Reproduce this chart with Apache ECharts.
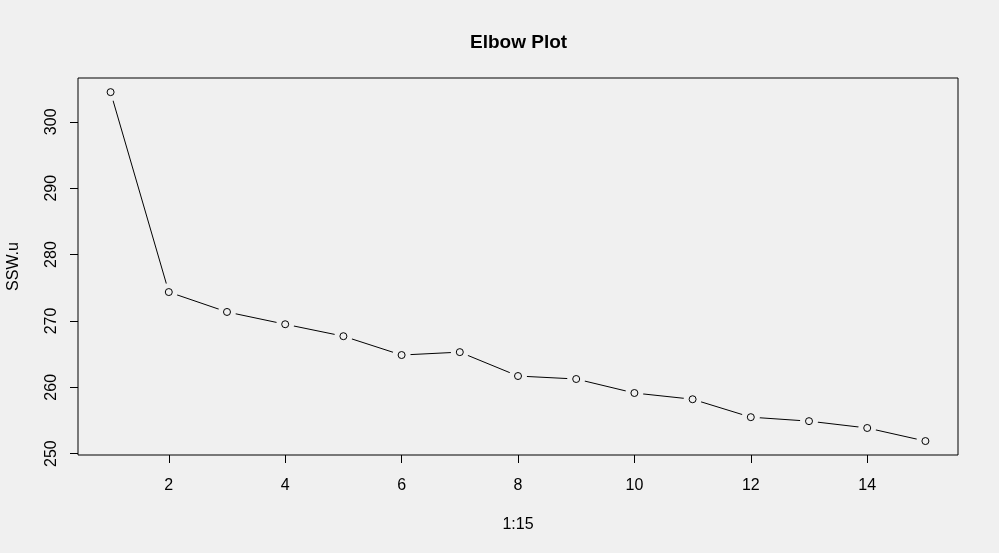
<!DOCTYPE html>
<html>
<head>
<meta charset="utf-8">
<title>Elbow Plot</title>
<script src="https://cdn.jsdelivr.net/npm/echarts@6.0.0/dist/echarts.min.js"></script>
<style>
	html, body { margin: 0; padding: 0; background: #f0f0f0; }
	#chart { width: 999px; height: 553px; }
</style>
</head>
<body>
<div id="chart"></div>
<script>
	// number of clusters and within-cluster sum of squares
	var clusters = [1, 2, 3, 4, 5, 6, 7, 8, 9, 10, 11, 12, 13, 14, 15];
	var ssw = [304.47, 274.35, 271.35, 269.5, 267.7, 264.86, 265.3, 261.7, 261.25, 259.14, 258.2, 255.5, 254.9, 253.87, 251.9];
	var xTicks = [2, 4, 6, 8, 10, 12, 14];
	var yTicks = [250, 260, 270, 280, 290, 300];

	var pts = clusters.map(function (c, i) { return [c, ssw[i]]; });
	var bg = '#f0f0f0';
	var font = 'Liberation Sans, Arial, sans-serif';

	var chart = echarts.init(document.getElementById('chart'));
	chart.setOption({
		backgroundColor: bg,
		animation: false,
		title: {
			text: 'Elbow Plot',
			left: 465,
			top: 28,
			textStyle: { fontFamily: font, fontSize: 19, fontWeight: 'bold', color: '#000' }
		},
		grid: {
			left: 78, top: 78, right: 41, bottom: 98,
			outerBoundsMode: 'none',
			containLabel: false,
			show: true, borderColor: '#000', borderWidth: 1, backgroundColor: 'transparent'
		},
		xAxis: {
			type: 'value',
			min: 0.44,
			max: 15.56,
			name: '1:15',
			nameLocation: 'middle',
			nameGap: 62,
			nameTextStyle: { fontFamily: font, fontSize: 16, color: '#000' },
			axisLine: { show: false },
			axisTick: { show: true, length: 8, inside: false, customValues: xTicks, lineStyle: { color: '#000' } },
			axisLabel: { customValues: xTicks, margin: 23, fontFamily: font, fontSize: 16, color: '#000' },
			splitLine: { show: false }
		},
		yAxis: {
			type: 'value',
			min: 249.8,
			max: 306.6,
			name: 'SSW.u',
			nameLocation: 'middle',
			nameGap: 56,
			nameTextStyle: { fontFamily: font, fontSize: 16, color: '#000' },
			axisLine: { show: false },
			axisTick: { show: true, length: 8, inside: false, customValues: yTicks, lineStyle: { color: '#000' } },
			axisLabel: { customValues: yTicks, rotate: 90, margin: 18, fontFamily: font, fontSize: 16, color: '#000' },
			splitLine: { show: false }
		},
		series: [
			{
				type: 'line',
				data: pts,
				showSymbol: false,
				symbol: 'none',
				lineStyle: { color: '#000', width: 1 },
				z: 1
			},
			{
				// gaps around points, like R's type = "b"
				type: 'scatter',
				data: pts,
				symbol: 'circle',
				symbolSize: 18,
				itemStyle: { color: bg, opacity: 1 },
				silent: true,
				z: 2
			},
			{
				type: 'scatter',
				data: pts,
				symbol: 'circle',
				symbolSize: 7,
				itemStyle: { color: bg, borderColor: '#000', borderWidth: 1, opacity: 1 },
				z: 3
			}
		]
	});
</script>
</body>
</html>
